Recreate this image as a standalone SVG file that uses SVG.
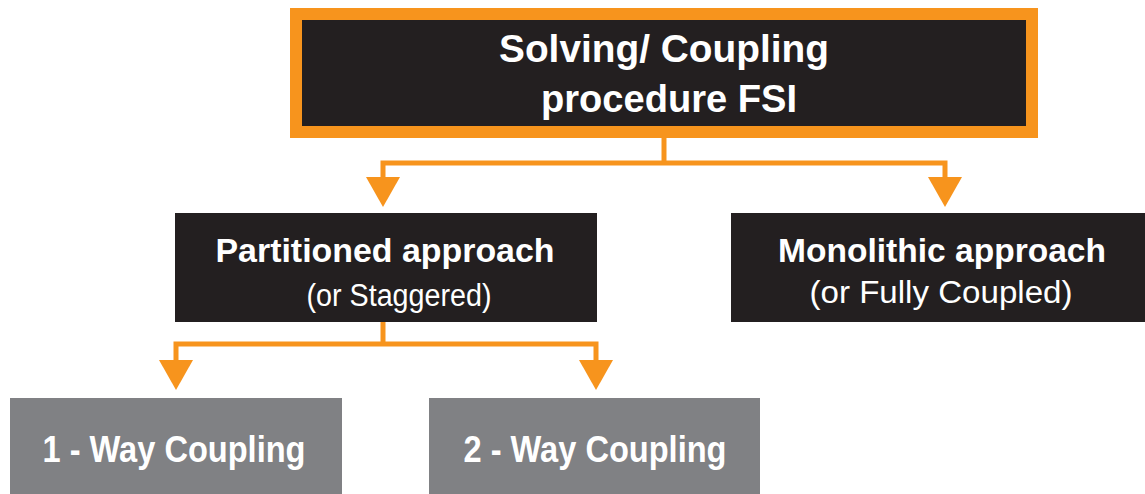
<svg xmlns="http://www.w3.org/2000/svg" width="1145" height="494" viewBox="0 0 1145 494">
  <style>
    .dark { fill: #231f20; }
    .grey { fill: #808184; }
    .wire { fill: none; stroke: #f7941d; stroke-width: 5; }
    .head { fill: #f7941d; }
    .b { font-family: "Liberation Sans", Arial, sans-serif; font-weight: bold; fill: #ffffff; text-anchor: middle; }
    .r { font-family: "Liberation Sans", Arial, sans-serif; fill: #ffffff; text-anchor: middle; }
  </style>
  <defs>
    <polygon id="arrowhead" points="-17,0 17,0 0,30" class="head"/>
  </defs>
  <rect width="1145" height="494" fill="#ffffff"/>

  <g id="connectors">
    <polyline class="wire" points="383,178 383,163 945,163 945,178"/>
    <line class="wire" x1="664" y1="137" x2="664" y2="163"/>
    <use href="#arrowhead" x="383" y="177"/>
    <use href="#arrowhead" x="945" y="177"/>
    <polyline class="wire" points="176,361 176,344 596,344 596,361"/>
    <line class="wire" x1="383" y1="321" x2="383" y2="344"/>
    <use href="#arrowhead" x="176" y="360"/>
    <use href="#arrowhead" x="596" y="360"/>
  </g>

  <g id="node-fsi">
    <rect x="290" y="8" width="748" height="130" fill="#f7941d"/>
    <rect x="302" y="20" width="724" height="106" class="dark"/>
    <text class="b" x="664" y="62" font-size="38" textLength="330" lengthAdjust="spacingAndGlyphs">Solving/ Coupling</text>
    <text class="b" x="669" y="112" font-size="38" textLength="256" lengthAdjust="spacingAndGlyphs">procedure FSI</text>
  </g>

  <g id="node-partitioned">
    <rect x="175" y="213" width="422" height="109" class="dark"/>
    <text class="b" x="385" y="262" font-size="34" textLength="339" lengthAdjust="spacingAndGlyphs">Partitioned approach</text>
    <text class="r" x="399" y="306" font-size="31" textLength="185" lengthAdjust="spacingAndGlyphs">(or Staggered)</text>
  </g>

  <g id="node-monolithic">
    <rect x="731" y="213" width="414" height="109" class="dark"/>
    <text class="b" x="942" y="262" font-size="34" textLength="328" lengthAdjust="spacingAndGlyphs">Monolithic approach</text>
    <text class="r" x="941" y="303" font-size="31" textLength="263" lengthAdjust="spacingAndGlyphs">(or Fully Coupled)</text>
  </g>

  <g id="node-one-way">
    <rect x="10" y="398" width="332" height="96" class="grey"/>
    <text class="b" x="174" y="462" font-size="37" textLength="263" lengthAdjust="spacingAndGlyphs">1 - Way Coupling</text>
  </g>

  <g id="node-two-way">
    <rect x="429" y="398" width="331" height="96" class="grey"/>
    <text class="b" x="595" y="462" font-size="37" textLength="263" lengthAdjust="spacingAndGlyphs">2 - Way Coupling</text>
  </g>
</svg>
